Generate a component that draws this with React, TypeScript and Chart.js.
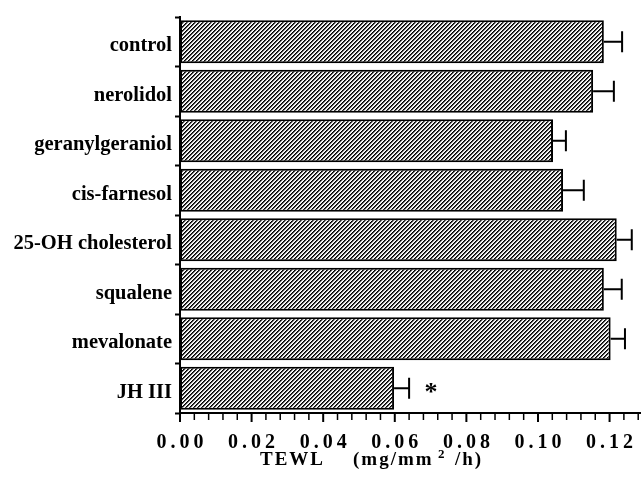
import React, { useEffect, useRef } from "react";
import { Chart, registerables } from "chart.js";

Chart.register(...registerables);

// ---- data ----
const categories: string[] = [
  "control",
  "nerolidol",
  "geranylgeraniol",
  "cis-farnesol",
  "25-OH cholesterol",
  "squalene",
  "mevalonate",
  "JH III",
];
const tewlValues: number[] = [0.1184, 0.1154, 0.1042, 0.107, 0.122, 0.1184, 0.1203, 0.0598];
const tewlErrors: number[] = [0.0051, 0.0058, 0.0036, 0.0058, 0.0042, 0.005, 0.004, 0.0042];
const significanceMarks: string[] = ["", "", "", "", "", "", "", "*"];
const significanceValue = 0.0701;
const xAxisMin = 0;
const xAxisMax = 0.1285;
const xMinorStep = 0.004;
const xMajorStep = 0.02;
const xTitleParts: string[] = ["TEWL", "(mg/mm", "2", "/h)"];

const SERIF = '"Liberation Serif", "Times New Roman", serif';

function isMajor(v: number): boolean {
  const r = v / xMajorStep;
  return Math.abs(r - Math.round(r)) < 1e-6;
}

function makeHatch(ctx: CanvasRenderingContext2D): CanvasPattern | string {
  const c = document.createElement("canvas");
  c.width = 4;
  c.height = 4;
  const g = c.getContext("2d");
  if (!g) return "#888";
  const img = g.createImageData(4, 4);
  const shades = [0, 70, 225, 255];
  for (let y = 0; y < 4; y++) {
    for (let x = 0; x < 4; x++) {
      const v = shades[(x + y) % 4];
      const i = (y * 4 + x) * 4;
      img.data[i] = v;
      img.data[i + 1] = v;
      img.data[i + 2] = v;
      img.data[i + 3] = 255;
    }
  }
  g.putImageData(img, 0, 0);
  return ctx.createPattern(c, "repeat") || "#888";
}

const decorPlugin = {
  id: "decor",
  afterDatasetsDraw(chart: any) {
    const { ctx, scales } = chart;
    const x = scales.x;
    const y = scales.y;
    ctx.save();
    ctx.strokeStyle = "#000";
    ctx.lineWidth = 2;
    tewlValues.forEach((v, i) => {
      const yc = y.getPixelForValue(i);
      const x0 = x.getPixelForValue(v);
      const x1 = x.getPixelForValue(v + tewlErrors[i]);
      ctx.beginPath();
      ctx.moveTo(x0, yc);
      ctx.lineTo(x1, yc);
      ctx.moveTo(x1, yc - 10.5);
      ctx.lineTo(x1, yc + 10.5);
      ctx.stroke();
    });
    ctx.fillStyle = "#000";
    ctx.font = `bold 26px ${SERIF}`;
    ctx.textAlign = "center";
    ctx.textBaseline = "alphabetic";
    significanceMarks.forEach((m, i) => {
      if (!m) return;
      ctx.fillText(m, x.getPixelForValue(significanceValue), y.getPixelForValue(i) + 12);
    });
    ctx.restore();
  },
  afterDraw(chart: any) {
    const { ctx, chartArea } = chart;
    const x = chart.scales.x;
    const base = chartArea.bottom;
    ctx.save();
    ctx.strokeStyle = "#000";
    // x tick marks
    for (const t of x.ticks) {
      const px = x.getPixelForValue(t.value);
      const major = isMajor(t.value);
      ctx.lineWidth = major ? 2 : 1.5;
      ctx.beginPath();
      ctx.moveTo(px, base);
      ctx.lineTo(px, base + (major ? 9 : 7));
      ctx.stroke();
    }
    // x tick labels
    ctx.fillStyle = "#000";
    ctx.font = `bold 20px ${SERIF}`;
    (ctx as any).letterSpacing = "4px";
    ctx.textAlign = "center";
    ctx.textBaseline = "alphabetic";
    for (const t of x.ticks) {
      if (!isMajor(t.value)) continue;
      const px = x.getPixelForValue(t.value);
      ctx.fillText(t.value.toFixed(2), px + 2, base + 35);
    }
    // x title
    ctx.textAlign = "left";
    (ctx as any).letterSpacing = "2px";
    ctx.font = `bold 19px ${SERIF}`;
    const left = chartArea.left;
    const tb = base + 52;
    ctx.fillText(xTitleParts[0], left + 80, tb);
    ctx.fillText(xTitleParts[1], left + 173, tb);
    ctx.font = `bold 13px ${SERIF}`;
    ctx.fillText(xTitleParts[2], left + 258, tb - 7);
    ctx.font = `bold 19px ${SERIF}`;
    ctx.fillText(xTitleParts[3], left + 275, tb);
    ctx.restore();
  },
};

export default function App() {
  const ref = useRef<HTMLCanvasElement | null>(null);
  useEffect(() => {
    const canvas = ref.current;
    if (!canvas) return;
    const ctx = canvas.getContext("2d");
    if (!ctx) return;
    const hatch = makeHatch(ctx);
    const chart = new Chart(canvas, {
      type: "bar",
      data: {
        labels: categories,
        datasets: [
          {
            data: tewlValues,
            backgroundColor: hatch as any,
            borderColor: "#000",
            borderWidth: 2,
            borderSkipped: false,
            barPercentage: 0.87,
            categoryPercentage: 1,
          },
        ],
      },
      options: {
        indexAxis: "y",
        responsive: false,
        animation: false,
        devicePixelRatio: 1,
        layout: { padding: { top: 17, right: 2, bottom: 0, left: 0 } },
        plugins: {
          legend: { display: false },
          tooltip: { enabled: false },
        },
        scales: {
          x: {
            type: "linear",
            position: "bottom",
            min: xAxisMin,
            max: xAxisMax,
            ticks: { display: false, stepSize: xMinorStep, includeBounds: false },
            grid: { display: false },
            border: { display: true, color: "#000", width: 2 },
            afterFit: (s: any) => {
              s.height = 64;
            },
          },
          y: {
            type: "category",
            position: "left",
            offset: true,
            grid: {
              display: true,
              drawOnChartArea: false,
              drawTicks: true,
              tickLength: 5,
              tickColor: "#000",
              tickWidth: 2,
              offset: true,
            },
            border: { display: true, color: "#000", width: 2 },
            ticks: {
              color: "#000",
              font: { family: SERIF, weight: "bold", size: 20.5 },
              padding: 3,
              labelOffset: 4,
              autoSkip: false,
            },
            afterFit: (s: any) => {
              s.width = 180;
            },
          },
        },
      },
      plugins: [decorPlugin],
    } as any);
    return () => chart.destroy();
  }, []);
  return (
    <canvas
      ref={ref}
      width={642}
      height={477}
      style={{ position: "absolute", left: 0, top: 0, width: 642, height: 477 }}
    />
  );
}
